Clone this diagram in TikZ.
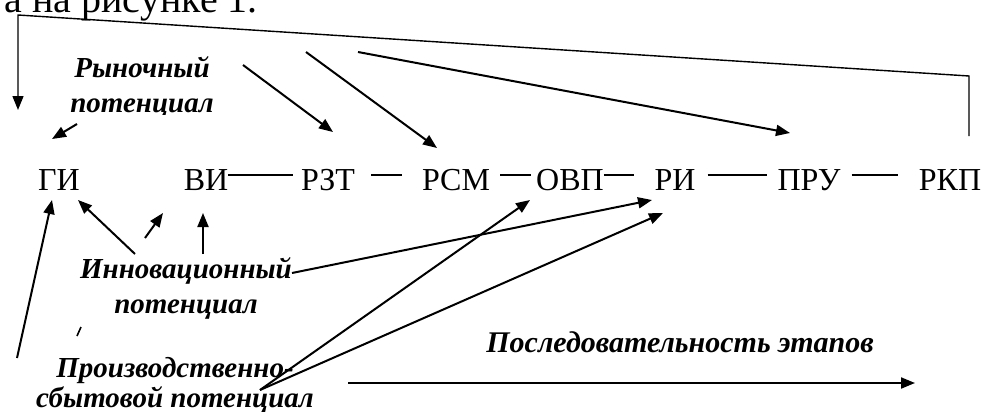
\documentclass[tikz,border=0pt]{standalone}
\usepackage{fontspec}
\setmainfont{Liberation Serif}
\usetikzlibrary{arrows.meta}
\begin{document}
\begin{tikzpicture}[x=1pt,y=-1pt,
  stage/.style={inner sep=0pt, anchor=base, font=\fontsize{32}{32}\selectfont, text height=30pt, text depth=0pt},
  lbl/.style={inner sep=0pt, align=center, anchor=base, font=\fontsize{29}{35}\selectfont\bfseries\itshape},
  conn/.style={line width=1.3pt},
  arr/.style={line width=2pt, -{Triangle[length=14pt,width=11pt]}},
  retline/.style={line width=1.4pt, -{Triangle[length=14pt,width=11pt]}},
]
\useasboundingbox (0,0) rectangle (982,412);
\clip (0,0) rectangle (982,412);

% top text fragment
\node[inner sep=0pt, anchor=base east, font=\fontsize{40}{40}\selectfont] (top) at (258,13) {а на рисунке 1.};

% stages
\node[stage] (gi)  at (59,190)  {ГИ};
\node[stage] (vi)  at (206,190) {ВИ};
\node[stage] (rzt) at (328,190) {РЗТ};
\node[stage] (rsm) at (456,190) {РСМ};
\node[stage] (ovp) at (570,190) {ОВП};
\node[stage] (ri)  at (675,190) {РИ};
\node[stage] (pru) at (809,190) {ПРУ};
\node[stage] (rkp) at (950,190) {РКП};

\draw[conn] (vi.east) -- ([xshift=-8pt]rzt.west);
\draw[conn] ([xshift=16pt]rzt.east) -- ([xshift=-20pt]rsm.west);
\draw[conn] ([xshift=10pt]rsm.east) -- ([xshift=-5pt]ovp.west);
\draw[conn] (ovp.east) -- ([xshift=-20pt]ri.west);
\draw[conn] ([xshift=12pt]ri.east) -- ([xshift=-10pt]pru.west);
\draw[conn] ([xshift=11pt]pru.east) -- ([xshift=-21pt]rkp.west);

% labels
\begin{scope}
\clip (50,40) rectangle (240,114);
\node[lbl] (rp) at (142,112) {Рыночный\\потенциал};
\end{scope}
\node[lbl] (inn) at (186,313) {Инновационный\\потенциал};
\node[lbl, font=\fontsize{29}{30}\selectfont\bfseries\itshape] (sp) at (175,407) {Производственно-\\сбытовой потенциал};
\node[lbl, font=\fontsize{30}{30}\selectfont\bfseries\itshape] (seq) at (680,352) {Последовательность этапов};

% coordinates
\coordinate (r0) at (969,136);
\coordinate (r1) at (969,76);
\coordinate (r2) at (18,15);
\coordinate (r3) at (18,110);

\coordinate (a1s) at (77,124);  \coordinate (a1e) at (52,139);
\coordinate (a2s) at (243,65);  \coordinate (a2e) at (333,132);
\coordinate (a3s) at (306,52);  \coordinate (a3e) at (437,148);
\coordinate (a4s) at (358,52);  \coordinate (a4e) at (790,133);

\coordinate (b1s) at (17,358);  \coordinate (b1e) at (52,200);
\coordinate (b2s) at (135,254); \coordinate (b2e) at (78,200);
\coordinate (b3s) at (145,238); \coordinate (b3e) at (163,213);
\coordinate (b4s) at (203,254); \coordinate (b4e) at (203,213);
\coordinate (b5s) at (292,273); \coordinate (b5e) at (652,200);
\coordinate (c0)  at (260,390);
\coordinate (c1e) at (530,200);
\coordinate (c2e) at (663,213);
\coordinate (t1) at (77,336);   \coordinate (t2) at (81,327);
\coordinate (q1) at (348,383);  \coordinate (q2) at (915,383);

% return connector RKP -> GI
\draw[retline] (r0) -- (r1) -- (r2) -- (r3);

\draw[arr] (a1s) -- (a1e);
\draw[arr] (a2s) -- (a2e);
\draw[arr] (a3s) -- (a3e);
\draw[arr] (a4s) -- (a4e);

\draw[arr] (b1s) -- (b1e);
\draw[arr] (b2s) -- (b2e);
\draw[arr] (b3s) -- (b3e);
\draw[arr] (b4s) -- (b4e);
\draw[arr] (b5s) -- (b5e);
\draw[arr] (c0) -- (c1e);
\draw[arr] (c0) -- (c2e);
\draw[line width=1.6pt] (t1) -- (t2);
\draw[arr] (q1) -- (q2);
\end{tikzpicture}
\end{document}
